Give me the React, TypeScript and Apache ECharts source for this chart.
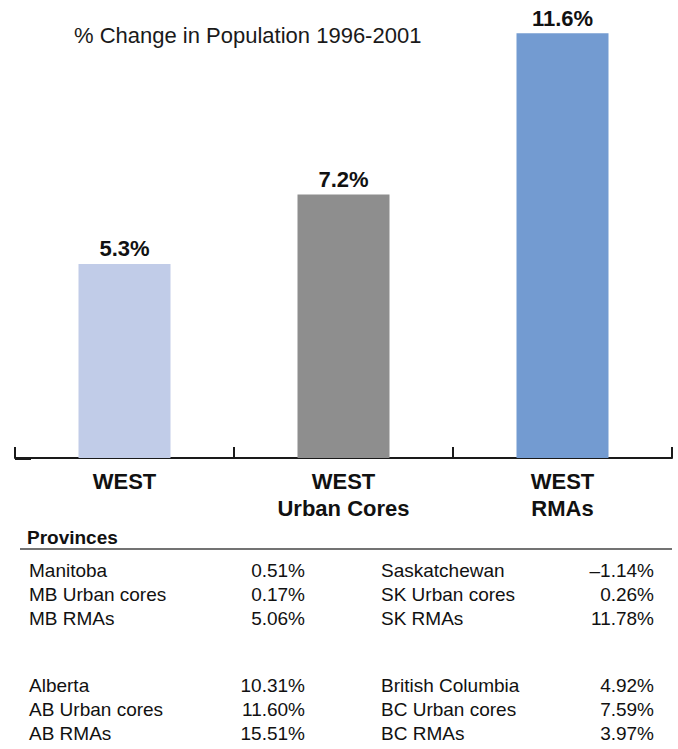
import React, { useEffect, useRef } from "react";
import * as echarts from "echarts";

const title = "% Change in Population 1996-2001";
const categories = ["WEST", "WEST\nUrban Cores", "WEST\nRMAs"];
const values = [5.3, 7.2, 11.6];
const barColors = ["#c1cce8", "#8e8e8e", "#739bd1"];

const tableHeader = "Provinces";
const leftNames = ["Manitoba", "MB Urban cores", "MB RMAs", "Alberta", "AB Urban cores", "AB RMAs"];
const leftValues = ["0.51%", "0.17%", "5.06%", "10.31%", "11.60%", "15.51%"];
const rightNames = ["Saskatchewan", "SK Urban cores", "SK RMAs", "British Columbia", "BC Urban cores", "BC RMAs"];
const rightValues = ["\u20131.14%", "0.26%", "11.78%", "4.92%", "7.59%", "3.97%"];

const FONT = "'Liberation Sans', Arial, sans-serif";

export default function App() {
  const ref = useRef<HTMLDivElement>(null);
  useEffect(() => {
    if (!ref.current) return;
    const chart = echarts.init(ref.current, null, { renderer: "svg" });
    const rowY = (i: number) => (i < 3 ? 570 + 24 * i : 685 + 24 * (i - 3));
    const tableText: any[] = [];
    const tf = `19px ${FONT}`;
    leftNames.forEach((n, i) => {
      tableText.push({ type: "text", x: 29, y: rowY(i), style: { text: n, fill: "#111", font: tf, textVerticalAlign: "middle" } });
      tableText.push({ type: "text", x: 305, y: rowY(i), style: { text: leftValues[i], fill: "#111", font: tf, textAlign: "right", textVerticalAlign: "middle" } });
      tableText.push({ type: "text", x: 381, y: rowY(i), style: { text: rightNames[i], fill: "#111", font: tf, textVerticalAlign: "middle" } });
      tableText.push({ type: "text", x: 654, y: rowY(i), style: { text: rightValues[i], fill: "#111", font: tf, textAlign: "right", textVerticalAlign: "middle" } });
    });
    chart.setOption({
      animation: false,
      backgroundColor: "#ffffff",
      title: {
        text: title,
        left: 69,
        top: 19,
        textStyle: { fontSize: 22, fontWeight: "normal", color: "#1a1a1a", fontFamily: FONT },
      },
      grid: { left: 15, right: 6, top: 18.7, bottom: 291 },
      xAxis: {
        type: "category",
        data: categories,
        axisLine: { lineStyle: { color: "#1a1a1a", width: 2 } },
        axisTick: { show: true, inside: true, length: 11, lineStyle: { color: "#1a1a1a", width: 2 } },
        axisLabel: {
          interval: 0,
          margin: 10,
          fontSize: 22,
          lineHeight: 27,
          fontWeight: "bold",
          color: "#111",
          fontFamily: FONT,
        },
      },
      yAxis: { type: "value", min: 0, max: 12, show: false, splitLine: { show: false } },
      series: [
        {
          type: "bar",
          barWidth: 92,
          data: values.map((v, i) => ({ value: v, itemStyle: { color: barColors[i] } })),
          label: {
            show: true,
            position: "top",
            distance: 4,
            formatter: "{c}%",
            fontSize: 22,
            fontWeight: "bold",
            color: "#111",
            fontFamily: FONT,
          },
        },
      ],
      graphic: [
        { type: "line", shape: { x1: 15, y1: 458.5, x2: 31, y2: 458.5 }, style: { stroke: "#1a1a1a", lineWidth: 3 } },
        { type: "text", x: 27, y: 537, style: { text: tableHeader, fill: "#111", font: `bold 19px ${FONT}`, textVerticalAlign: "middle" } },
        { type: "line", shape: { x1: 20, y1: 549, x2: 672, y2: 549 }, style: { stroke: "#444", lineWidth: 1.5 } },
        ...tableText,
      ],
    });
    return () => chart.dispose();
  }, []);
  return <div ref={ref} style={{ position: "absolute", left: 0, top: 0, width: 678, height: 749 }} />;
}
